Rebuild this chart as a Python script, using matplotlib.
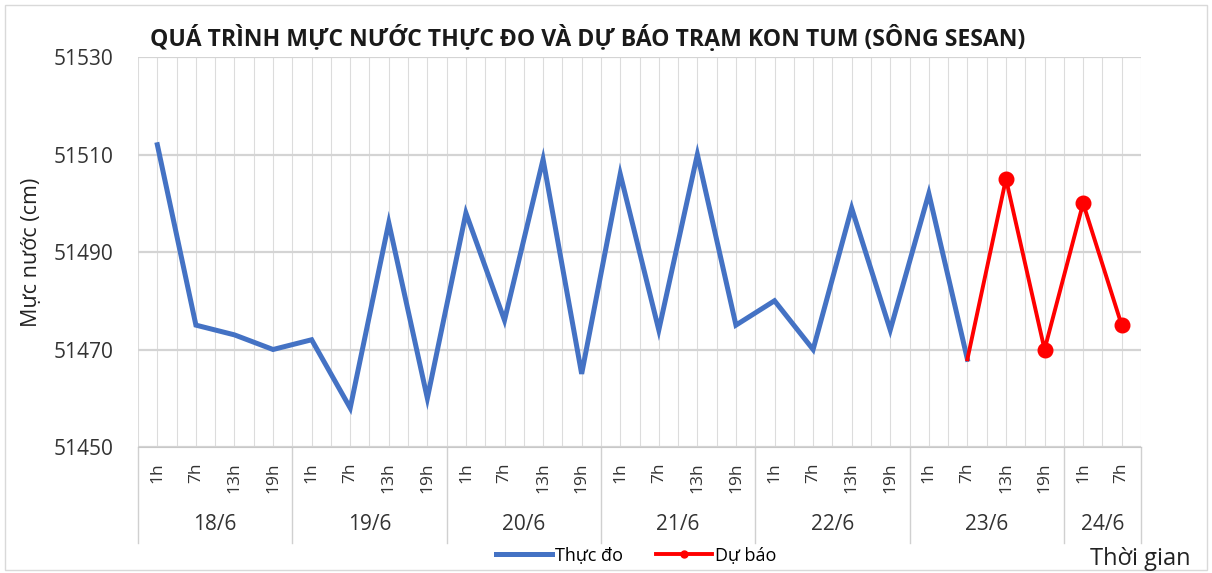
import matplotlib.pyplot as plt
from matplotlib.patches import Rectangle
from matplotlib.lines import Line2D

plt.rcParams['font.family'] = ['Open Sans', 'DejaVu Sans']

days = ["18/6", "19/6", "20/6", "21/6", "22/6", "23/6", "24/6"]
hours_per_day = [4, 4, 4, 4, 4, 4, 2]
hour_names = ["1h", "7h", "13h", "19h"]

observed = [51512, 51475, 51473, 51470,
            51472, 51458, 51496, 51460,
            51498, 51476, 51509, 51465,
            51506, 51474, 51510, 51475,
            51480, 51470, 51499, 51474,
            51502, 51468]
forecast = [51468, 51505, 51470, 51500, 51475]

hour_labels = []
for n in hours_per_day:
    hour_labels += hour_names[:n]
n_cat = len(hour_labels)
x_obs = list(range(len(observed)))
x_fc = list(range(len(observed) - 1, len(observed) - 1 + len(forecast)))

fig = plt.figure(figsize=(12.12, 5.73), dpi=100)
ax = fig.add_axes([0.1139, 0.2199, 0.8275, 0.6806])

ax.plot(x_obs, observed, color='#4472C4', lw=3.6, solid_joinstyle='miter', zorder=3)
ax.plot(x_fc, forecast, color='#FF0000', lw=2.8, marker='o', markersize=10.5,
        markevery=list(range(1, len(forecast))), zorder=4)

ax.set_xlim(-0.5, n_cat - 0.5)
ax.set_ylim(51450, 51530)
ax.set_yticks(range(51450, 51531, 20))
ax.set_xticks(range(n_cat))
ax.set_xticks([i + 0.5 for i in range(-1, n_cat)], minor=True)
ax.set_xticklabels(hour_labels, rotation=90, fontsize=12.5, color='#333333')
ax.tick_params(axis='x', which='both', length=0, pad=11)
ax.tick_params(axis='y', length=0, labelsize=15, pad=18, labelcolor='#333333')

ax.grid(axis='x', which='both', color='#DCDCDC', lw=0.8)
ax.grid(axis='y', color='#D4D4D4', lw=1.6)
ax.set_axisbelow(True)
for s in ['left', 'right', 'top']:
    ax.spines[s].set_visible(False)
ax.spines['bottom'].set_color('#C8C8C8')

# day groups below the hour labels
tr = ax.get_xaxis_transform()
start = -0.5
bounds = [start]
for name, n in zip(days, hours_per_day):
    ax.text(start + n / 2, -0.2, name, transform=tr, ha='center', va='center',
            fontsize=15, color='#333333')
    start += n
    bounds.append(start)
for b in bounds:
    ax.plot([b, b], [0, -0.245], transform=tr, color='#D0D0D0', lw=1, clip_on=False)

ax.set_ylabel("Mực nước (cm)", fontsize=15.5, color='#222222', labelpad=8)
fig.text(0.124, 0.933, "QUÁ TRÌNH MỰC NƯỚC THỰC ĐO VÀ DỰ BÁO TRẠM KON TUM (SÔNG SESAN)",
         fontsize=16.6, fontweight='bold', color='#1a1a1a', va='center')
fig.text(0.982, 0.024, "Thời gian", fontsize=17, color='#222222', ha='right', va='center')

handles = [Line2D([], [], color='#4472C4', lw=3.6),
           Line2D([], [], color='#FF0000', lw=2.8, marker='o', markersize=5)]
fig.legend(handles, ["Thực đo", "Dự báo"], loc='center', bbox_to_anchor=(0.525, 0.03),
           ncol=2, frameon=False, fontsize=13, handlelength=3.1, columnspacing=1.8,
           handletextpad=0.2)

fig.patches.append(Rectangle((0.004, 0.006), 0.992, 0.985, transform=fig.transFigure,
                             fill=False, edgecolor='#D9D9D9', lw=1))

fig.savefig("out.png", dpi=100)
